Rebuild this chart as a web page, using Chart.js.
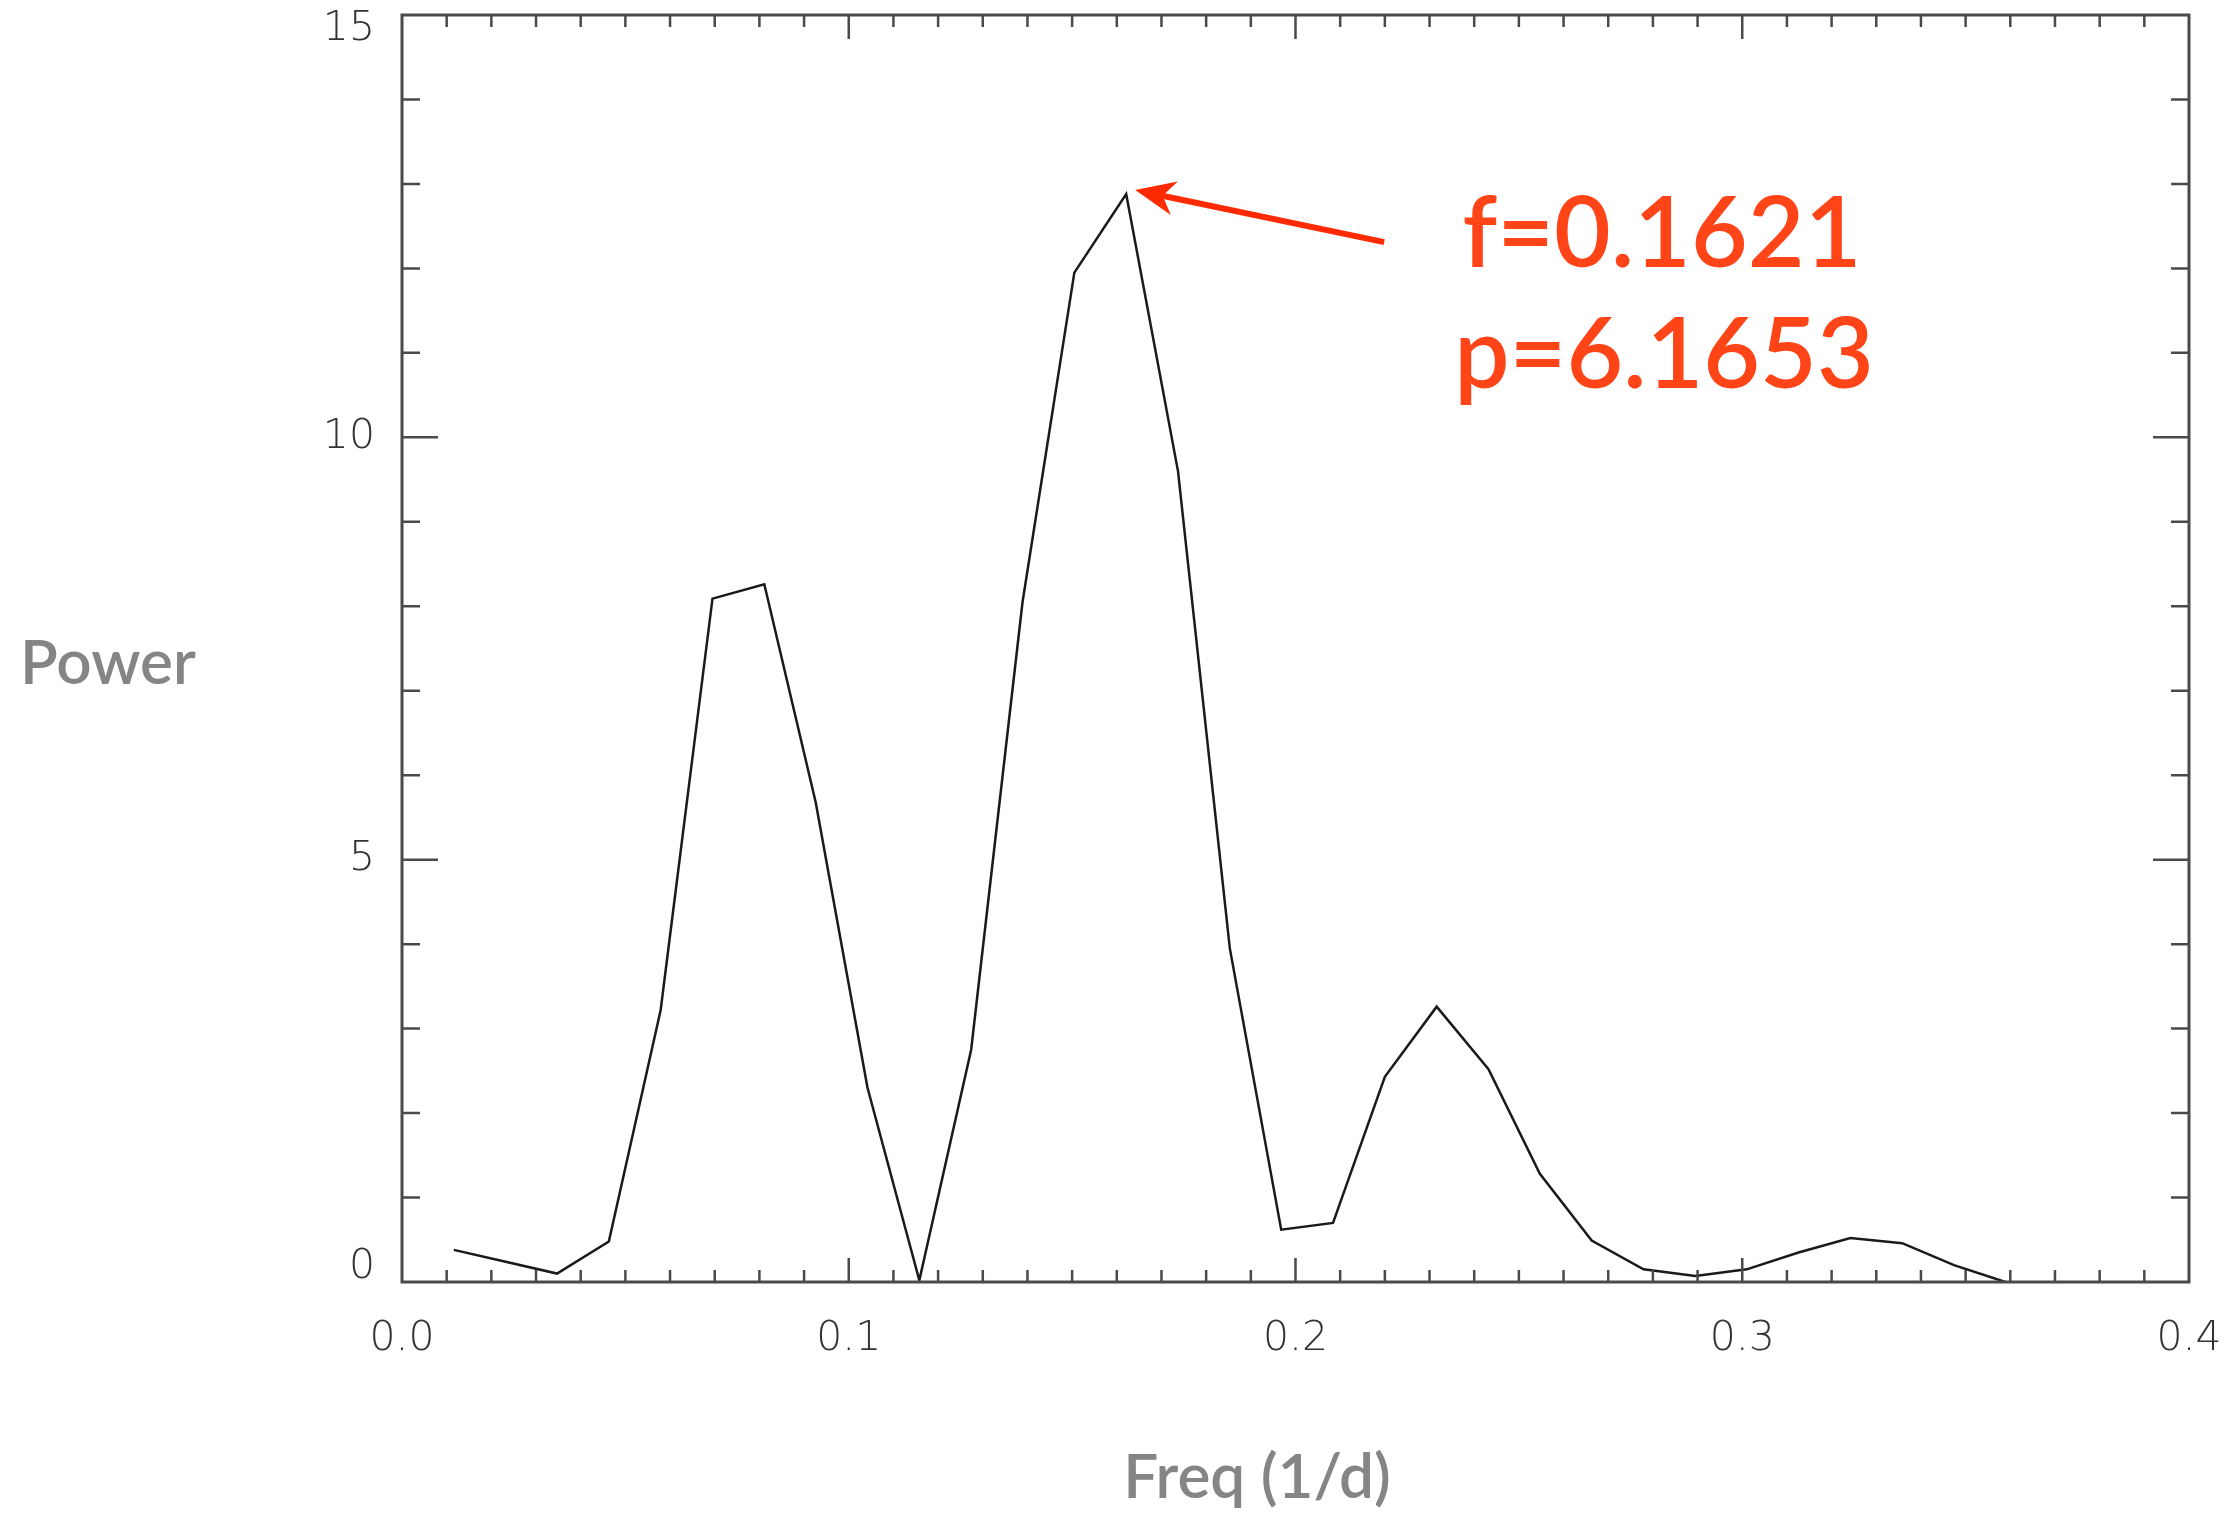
<!DOCTYPE html>
<html>
<head>
<meta charset="utf-8">
<title>Power spectrum</title>
<script src="https://cdn.jsdelivr.net/npm/chart.js@4.4.0/dist/chart.umd.min.js"></script>
<style>
  html, body { margin: 0; padding: 0; background: #fff; }
  #wrap { width: 2236px; height: 1515px; }
</style>
</head>
<body>
<div id="wrap"><canvas id="myChart" width="2236" height="1515"></canvas></div>
<script>
// periodogram: frequency (1/d) and power
var freq = [0.0116, 0.0232, 0.0347, 0.0463, 0.0579, 0.0695, 0.0811, 0.0926, 0.1042, 0.1158,
            0.1274, 0.1389, 0.1505, 0.1621, 0.1737, 0.1853, 0.1968, 0.2084, 0.2200, 0.2316,
            0.2432, 0.2547, 0.2663, 0.2779, 0.2895, 0.3010, 0.3126, 0.3242, 0.3358, 0.3474,
            0.3589];
var power = [0.38, 0.24, 0.10, 0.48, 3.22, 8.09, 8.26, 5.68, 2.30, 0.02,
             2.75, 8.05, 11.95, 12.88, 9.60, 3.95, 0.62, 0.70, 2.43, 3.26,
             2.52, 1.28, 0.49, 0.15, 0.07, 0.15, 0.35, 0.52, 0.46, 0.20,
             0.00];
var xTicks = [0.0, 0.1, 0.2, 0.3, 0.4];
var yTicks = [0, 5, 10, 15];
var xTitle = 'Freq (1/d)';
var yTitle = 'Power';
var peakFreq = 0.1621;
var peakPeriod = 6.1653;

var points = freq.map(function (f, i) { return { x: f, y: power[i] }; });

var axisColor = '#4a4a4a';
var tickFont = { family: 'DejaVu Sans', size: 41, weight: 200 };

// IDL-style frame with tick marks pointing inwards on all four sides
var framePlugin = {
  id: 'frame',
  afterDraw: function (chart) {
    var ctx = chart.ctx, a = chart.chartArea;
    var xs = chart.scales.x, ys = chart.scales.y;
    ctx.save();
    ctx.strokeStyle = axisColor;
    ctx.lineWidth = 3;
    ctx.strokeRect(a.left, a.top, a.right - a.left, a.bottom - a.top);
    ctx.lineWidth = 2.5;
    var i, p, len;
    for (i = 1; i < 40; i++) {
      p = xs.getPixelForValue(i / 100);
      len = (i % 10 === 0) ? 24 : 12;
      ctx.beginPath();
      ctx.moveTo(p, a.bottom); ctx.lineTo(p, a.bottom - len);
      ctx.moveTo(p, a.top); ctx.lineTo(p, a.top + len);
      ctx.stroke();
    }
    for (i = 1; i < 15; i++) {
      p = ys.getPixelForValue(i);
      len = (i % 5 === 0) ? 36 : 18;
      ctx.beginPath();
      ctx.moveTo(a.left, p); ctx.lineTo(a.left + len, p);
      ctx.moveTo(a.right, p); ctx.lineTo(a.right - len, p);
      ctx.stroke();
    }
    ctx.restore();
  }
};

// axis titles and the peak annotation
var notesPlugin = {
  id: 'notes',
  afterDraw: function (chart) {
    var ctx = chart.ctx;
    var xs = chart.scales.x, ys = chart.scales.y;
    ctx.save();
    ctx.fillStyle = '#858585';
    ctx.font = '600 62px Lato';
    ctx.textAlign = 'left';
    ctx.textBaseline = 'alphabetic';
    ctx.fillText(yTitle, 20, 684);
    ctx.textAlign = 'center';
    ctx.fillText(xTitle, 1257, 1498);

    var k = power.indexOf(Math.max.apply(null, power));
    var tipX = xs.getPixelForValue(freq[k]) + 9;
    var tipY = ys.getPixelForValue(power[k]) - 4;
    var tailX = tipX + 249, tailY = tipY + 52;
    var ang = Math.atan2(tipY - tailY, tipX - tailX);
    var c = Math.cos(ang), s = Math.sin(ang);
    var L = 40, W = 17;
    ctx.strokeStyle = '#ff2a00';
    ctx.fillStyle = '#ff2a00';
    ctx.lineWidth = 6;
    ctx.beginPath();
    ctx.moveTo(tailX, tailY);
    ctx.lineTo(tipX - c * L * 0.6, tipY - s * L * 0.6);
    ctx.stroke();
    ctx.beginPath();
    ctx.moveTo(tipX, tipY);
    ctx.lineTo(tipX - c * L - s * W, tipY - s * L + c * W);
    ctx.lineTo(tipX - c * L * 0.7, tipY - s * L * 0.7);
    ctx.lineTo(tipX - c * L + s * W, tipY - s * L - c * W);
    ctx.closePath();
    ctx.fill();

    ctx.fillStyle = '#ff4518';
    ctx.font = '600 98px Lato';
    ctx.textAlign = 'center';
    ctx.fillText('f=' + peakFreq.toFixed(4), 1662, 267);
    ctx.fillText('p=' + peakPeriod.toFixed(4), 1664, 388);
    ctx.restore();
  }
};

var ctx = document.getElementById('myChart').getContext('2d');
var chart = new Chart(ctx, {
  type: 'line',
  data: {
    datasets: [{
      label: yTitle,
      data: points,
      borderColor: '#1a1a1a',
      borderWidth: 2.5,
      pointRadius: 0,
      tension: 0,
      fill: false
    }]
  },
  options: {
    responsive: false,
    animation: false,
    devicePixelRatio: 1,
    layout: { padding: { left: 0, top: 15, right: 47, bottom: 0 } },
    plugins: { legend: { display: false }, tooltip: { enabled: false } },
    scales: {
      x: {
        type: 'linear',
        min: 0,
        max: 0.4,
        afterBuildTicks: function (s) { s.ticks = xTicks.map(function (v) { return { value: v }; }); },
        afterFit: function (s) { s.height = 233; s.paddingLeft = 0; s.paddingRight = 0; },
        ticks: {
          color: '#333333',
          font: tickFont,
          padding: 25,
          maxRotation: 0,
          callback: function (v) { return v.toFixed(1); }
        },
        grid: { display: false },
        border: { display: false }
      },
      y: {
        type: 'linear',
        min: 0,
        max: 15,
        afterBuildTicks: function (s) { s.ticks = yTicks.map(function (v) { return { value: v }; }); },
        afterFit: function (s) { s.width = 402; s.paddingTop = 0; s.paddingBottom = 0; },
        ticks: {
          color: '#333333',
          font: { family: 'DejaVu Sans', size: 41, weight: 200, lineHeight: 0.7 },
          padding: 19,
          // end labels sit inside the axis range, as IDL draws them
          callback: function (v) {
            if (v === yTicks[yTicks.length - 1]) return ['', String(v)];
            if (v === yTicks[0]) return [String(v), ''];
            return String(v);
          }
        },
        grid: { display: false },
        border: { display: false }
      }
    }
  },
  plugins: [framePlugin, notesPlugin]
});
</script>
</body>
</html>
